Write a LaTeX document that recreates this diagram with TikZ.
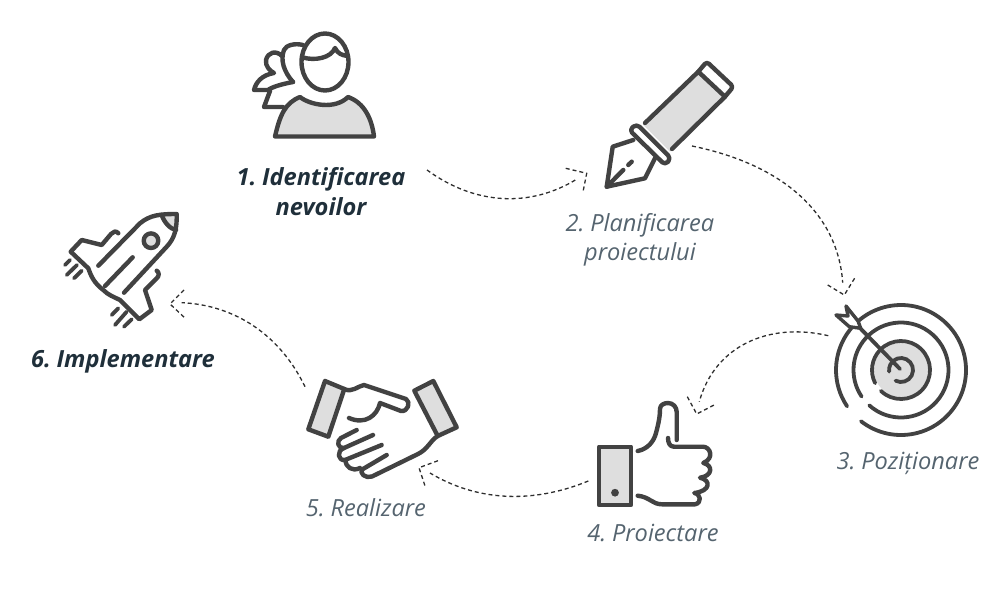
\documentclass[tikz,border=0pt]{standalone}
\usepackage{fontspec}
\setmainfont[WordSpace=0.6]{Open Sans}
\definecolor{ink}{HTML}{424242}
\definecolor{fillg}{HTML}{DEDEDE}
\definecolor{darkt}{HTML}{1F2F3A}
\definecolor{lightt}{HTML}{55646F}
\definecolor{dashc}{HTML}{2E2E2E}
\tikzset{
 icon/.style={draw=ink,line width=4.4pt,line cap=round,line join=round},
 thinicon/.style={draw=ink,line width=3.8pt,line cap=round,line join=round},
 gray/.style={fill=fillg,draw=none},
 conn/.style={draw=dashc,line width=1.3pt,dash pattern=on 4pt off 3pt},
 boldlabel/.style={font=\fontsize{23.6}{30}\selectfont\bfseries\itshape,text=darkt,align=center,inner sep=0pt},
 lightlabel/.style={font=\fontsize{23.6}{29}\selectfont\itshape,text=lightt,align=center,inner sep=0pt},
}
\begin{document}
\begin{tikzpicture}[x=1pt,y=-1pt]
\useasboundingbox (0,0) rectangle (1000,596);
% person
\path[gray] (275,135) .. controls (280,115) and (285,103) .. (300,97) .. controls (310,105) and (335,110) .. (348,97) .. controls (365,103) and (372,120) .. (374,135) -- cycle;
\draw[icon] (303,45) .. controls (295,43) and (286,45) .. (284,50) .. controls (280,60) and (284,72) .. (293,82);
\draw[icon] (282,56) .. controls (276,50) and (268,52) .. (266,60) .. controls (265,66) and (270,71) .. (274,73) .. controls (262,75) and (256,82) .. (254,90) -- (268,90) .. controls (272,87) and (282,84) .. (293,82);
\draw[icon] (270,91) -- (264,107) -- (283,107);
\draw[icon] (325,62) ellipse (23.5 and 28.5);
\draw[icon] (303,57.5) .. controls (315,61) and (331,58) .. (335,48) .. controls (338,54) and (342,55) .. (347,56);
\draw[icon] (275,136.5) -- (374,136.5) .. controls (372,120) and (365,103) .. (348,97) .. controls (335,110) and (310,105) .. (300,97) .. controls (285,103) and (280,115) .. (275,136.5) -- cycle;
% pen
\path[gray] (643.3,125) -- (698.3,71.7) -- (725,96.7) -- (670,151.7) -- cycle;
\draw[icon] (645,123) -- (698.3,71.7) -- (725,96.7) -- (672,149);
\draw[icon,rounded corners=3pt] (698.3,71.7) -- (706.7,61.7) -- (733.3,86.7) -- (725,96.7);
\draw[icon,rounded corners=4pt] (629.3,130) -- (636.7,124) -- (671,158.3) -- (665,165) -- cycle;
\draw[icon] (633.3,140) -- (612.7,146.7) -- (606.7,186.7) -- (645,178.3) -- (655,158.3);
\draw[icon] (606.7,186.7) -- (623.3,170);
\draw[icon] (628.3,165) -- (631.7,161.7);
% target
\path[gray] (901,370) circle (27);
\draw[thinicon] (901,370) ++(128:65) arc (128:-214:65);
\draw[thinicon] (901,370) ++(132:47.5) arc (132:-214:47.5);
\draw[thinicon] (901,370) ++(134:29) arc (134:-207:29);
\draw[thinicon] (901,370) ++(117:12) arc (117:-188:12);
\draw[thinicon] (900,369) -- (858,326);
\draw[thinicon,line width=3.4pt,fill=white] (846,306) -- (858,321) -- (860.7,328.3) -- (849.3,326.7) -- (836,315) -- (848,316) -- cycle;
% thumb
\path[gray] (599,446.7) rectangle (631,505);
\draw[icon] (599,446.7) rectangle (631,505);
\fill[ink] (615,492.7) circle (3.9);
\draw[icon] (637.7,451) .. controls (648,449) and (654,441) .. (656,433) .. controls (659,422) and (660,415) .. (660,409) .. controls (660,405) and (664,403) .. (668,403) .. controls (673,403) and (676.7,407) .. (676.7,412) -- (676.7,440);
\draw[icon] (668,438) .. controls (668,443) and (670,446.7) .. (674,446.7) -- (703,446.7) .. controls (710,446.7) and (715,458) .. (703.3,463) .. controls (713,465) and (713,476) .. (700,477.7) .. controls (711,480) and (711,491) .. (694.3,493) .. controls (701,494) and (702,503) .. (695,504.3) -- (662,504.3) .. controls (652,504.3) and (650,497) .. (637.7,495.7);
% handshake
\path[gray] (325,381) -- (344.3,389) -- (328.3,436.7) -- (308.3,429.3) -- cycle;
\draw[icon] (325,381) -- (344.3,389) -- (328.3,436.7) -- (308.3,429.3) -- cycle;
\path[gray] (414.3,390.7) -- (433.3,381) -- (456.7,427.3) -- (437.7,436) -- cycle;
\draw[icon] (414.3,390.7) -- (433.3,381) -- (456.7,427.3) -- (437.7,436) -- cycle;
\draw[icon] (344.3,389) .. controls (352,393) and (358,386) .. (364,385) -- (406,399) .. controls (411,402) and (408,412) .. (401,411) -- (380,403) .. controls (377,416) and (365,425) .. (349,418);
\draw[icon] (437.7,436) .. controls (430,441) and (428,449) .. (418,454) -- (372,476.5) .. controls (366,479) and (358,473) .. (363,469) -- (386.7,455);
\draw[icon] (356.7,430) -- (341,438) .. controls (336,441) and (338,449) .. (344,448) -- (373,435);
\draw[icon] (344,448) .. controls (336,451) and (338,461) .. (345,460) -- (381.7,445);
\draw[icon] (345,460) .. controls (346,467) and (352,472) .. (360,468);
% rocket
\path[gray] (161.7,215) -- (176.7,214) -- (176,230) .. controls (170,229) and (164,222) .. (161.7,215) -- cycle;
\draw[icon] (98.3,265.7) -- (140,223.3) .. controls (150,215) and (160,214) .. (176.7,214) .. controls (177,228) and (175,238) .. (166.7,246.7) -- (124,292.7);
\draw[icon] (161.7,215) .. controls (164,222) and (170,229) .. (176,230);
\draw[icon,fill=fillg] (151,240.7) circle (7.3);
\draw[icon] (105,286) -- (132.7,257.3);
\draw[icon] (118.3,233.3) .. controls (116,230) and (113,232) .. (111,234) -- (101.7,245) -- (81.7,240) -- (70.7,251.7) -- (88.3,268.3) .. controls (91,276) and (94,283) .. (103.3,290) .. controls (108,295) and (114,297) .. (120,300) -- (139.3,319.3) -- (151.7,310) -- (145,290) -- (156,279) .. controls (160,276) and (159,272) .. (156.7,270.7);
\draw[thinicon] (65,265) -- (70,260);
\draw[thinicon] (66.7,275) -- (77,265);
\draw[thinicon] (74,278.3) -- (81.7,270.7);
\draw[thinicon] (111.7,315) -- (118.3,308.3);
\draw[thinicon] (115,325) -- (126.7,311.7);
\draw[thinicon] (124,326.7) -- (131.7,319.3);
% labels
\node[boldlabel] (l1) at (321,192) {1. Identificarea\\nevoilor};
\node[lightlabel] (l2) at (640,240) {2. Planificarea\\proiectului};
\node[lightlabel] (l3) at (908,463) {3. Poziționare};
\node[lightlabel] (l4) at (653,533) {4. Proiectare};
\node[lightlabel] (l5) at (366,508) {5. Realizare};
\node[boldlabel] (l6) at (123,361) {6. Implementare};
% connectors
\coordinate (a1) at (427,170); \coordinate (a2) at (577,179); \coordinate (at) at (586.7,173.3);
\coordinate (aa) at (565.7,168.3); \coordinate (ab) at (582.7,193.3);
\coordinate (b1) at (692,146); \coordinate (b2) at (842.7,282.7); \coordinate (bt) at (844.3,295);
\coordinate (ba) at (827.7,285); \coordinate (bb) at (856,276);
\coordinate (c1) at (828.3,335.7); \coordinate (c2) at (699.3,401.7); \coordinate (ct) at (696.7,414);
\coordinate (ca) at (687.3,396.7); \coordinate (cb) at (716,404);
\coordinate (d1) at (588.3,481); \coordinate (d2) at (430,473); \coordinate (dt) at (419,467.7);
\coordinate (da) at (438,460.7); \coordinate (db) at (425.7,488);
\coordinate (e1) at (305,386.7); \coordinate (e2) at (181.7,302.7); \coordinate (et) at (170,304);
\coordinate (ea) at (184,290); \coordinate (eb) at (186,319);
\draw[conn] (a1) .. controls (475,205) and (530,208) .. (a2);
\draw[conn] (aa) -- (at) -- (ab);
\draw[conn] (b1) .. controls (785,165) and (838,215) .. (b2);
\draw[conn] (ba) -- (bt) -- (bb);
\draw[conn] (c1) .. controls (770,322) and (715,345) .. (c2);
\draw[conn] (ca) -- (ct) -- (cb);
\draw[conn] (d1) .. controls (530,505) and (475,500) .. (d2);
\draw[conn] (da) -- (dt) -- (db);
\draw[conn] (e1) .. controls (280,335) and (235,305) .. (e2);
\draw[conn] (ea) -- (et) -- (eb);
\end{tikzpicture}
\end{document}
